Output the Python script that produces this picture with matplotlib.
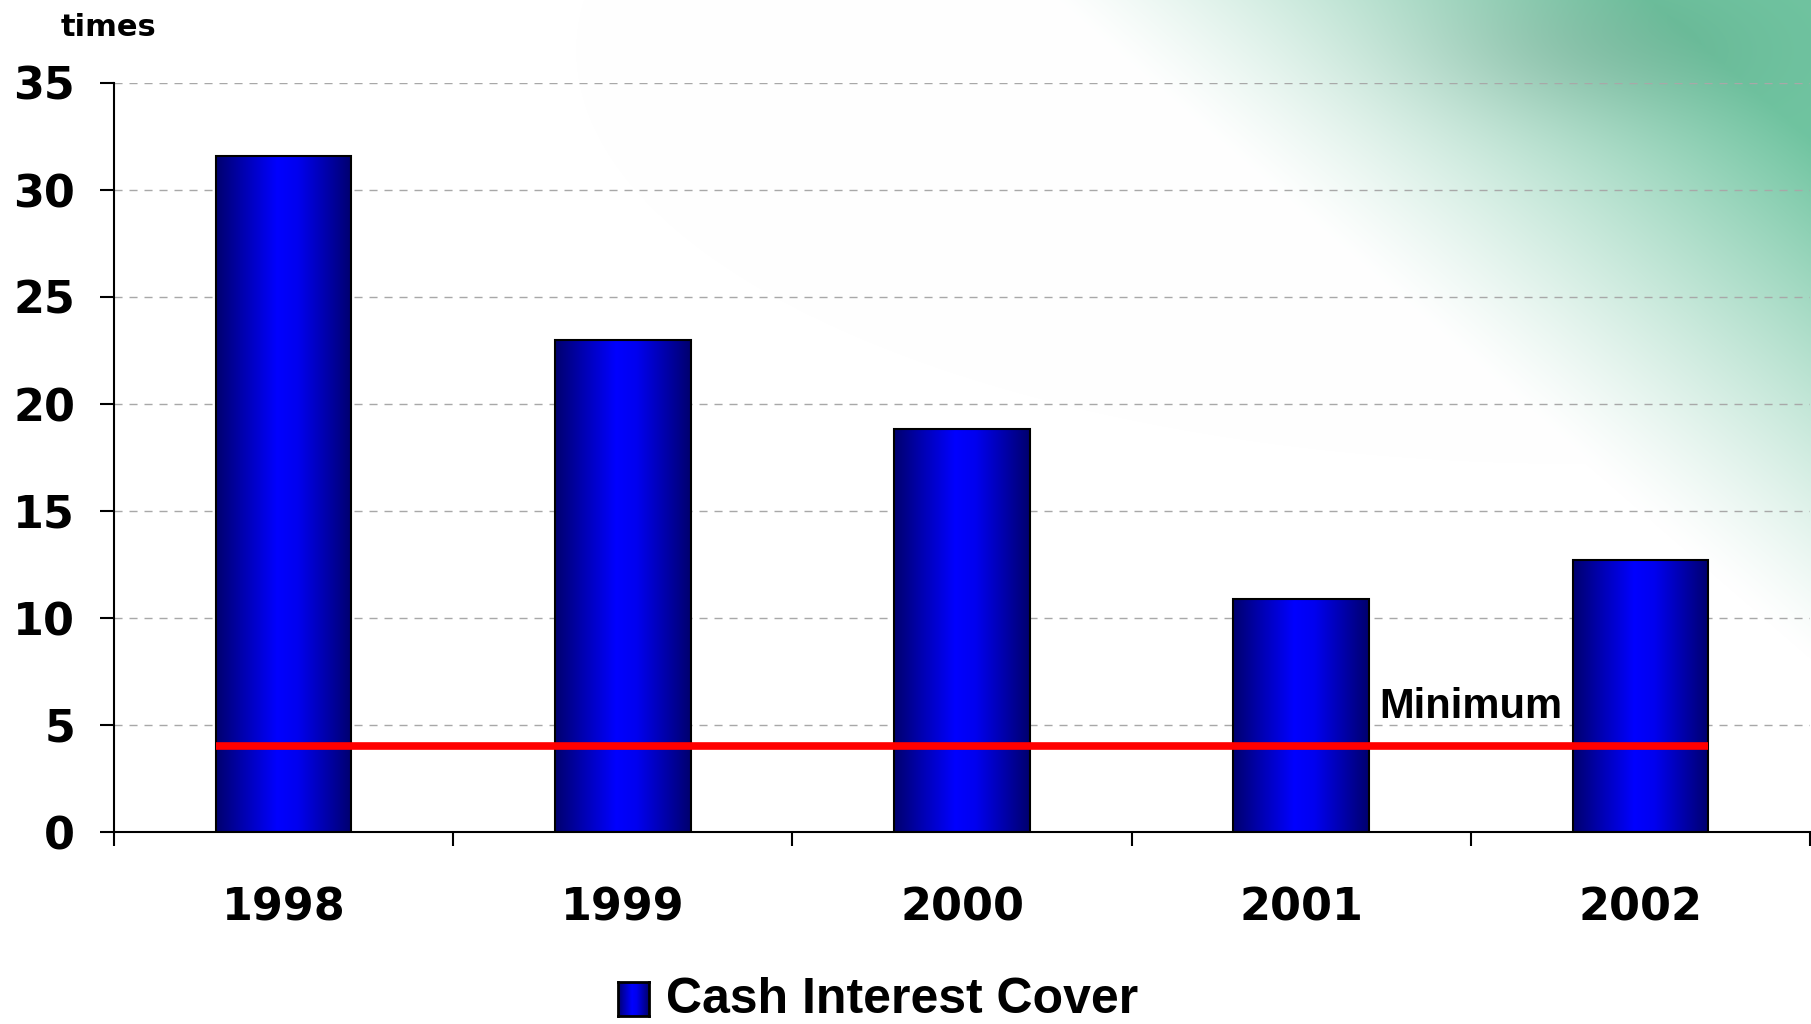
import numpy as np
import matplotlib
matplotlib.use("Agg")
import matplotlib.pyplot as plt
from matplotlib.colors import LinearSegmentedColormap
from matplotlib import font_manager as fm

years = ["1998", "1999", "2000", "2001", "2002"]
cover = [31.6, 23.0, 18.85, 10.9, 12.7]
minimum = 4.0
yticks = [0, 5, 10, 15, 20, 25, 30, 35]
series_name = "Cash Interest Cover"

W, H = 1811, 1024

font_names = {f.name for f in fm.fontManager.ttflist}
if "Liberation Sans Narrow" in font_names:
    legend_font, legend_size = "Liberation Sans Narrow", 43
else:
    legend_font, legend_size = "Liberation Sans", 36

fig = plt.figure(figsize=(W / 100, H / 100), dpi=100)

# background: white fading to green in the upper right corner
bg = fig.add_axes([0, 0, 1, 1], zorder=-10)
yy, xx = np.mgrid[0:H, 0:W]
t = np.clip((xx - 1050) / 600 - yy / 520, 0, 1) ** 1.2
green = np.array([0.44, 0.77, 0.63])
img = 1 - t[..., None] * (1 - green)
blob = np.exp(-(((xx - 1580) / 170) ** 2 + ((yy - 50) / 70) ** 2))
img = img * (1 - 0.08 * blob[..., None])
bg.imshow(img, aspect="auto", interpolation="bilinear")
bg.axis("off")

ax = fig.add_axes([114 / W, 192 / H, 1696 / W, 749 / H])
ax.patch.set_alpha(0)

x = np.arange(len(years))
bars = ax.bar(x, cover, width=0.4, color="none", edgecolor="black",
              linewidth=1.5, zorder=3)

cmap = LinearSegmentedColormap.from_list(
    "barblue",
    [(0, "#00006e"), (0.2, "#0000b0"), (0.45, "#0000ff"),
     (0.6, "#0000f0"), (1, "#00006e")])
grad = np.linspace(0, 1, 256)[None, :]
for b in bars:
    x0, w, h = b.get_x(), b.get_width(), b.get_height()
    ax.imshow(grad, cmap=cmap, aspect="auto", extent=[x0, x0 + w, 0, h],
              zorder=2, interpolation="bilinear")

ax.plot([x[0] - 0.2, x[-1] + 0.2], [minimum, minimum], color="#ff0000",
        lw=5.5, zorder=4, solid_capstyle="butt")
ax.text(3.23, 5.84, "Minimum", fontfamily="Liberation Sans",
        fontweight="bold", fontsize=30, ha="left", va="center", zorder=5)

ax.set_xlim(-0.5, len(years) - 0.5)
ax.set_ylim(0, 35)

ax.set_yticks(yticks)
ax.set_yticklabels([str(v) for v in yticks], fontfamily="DejaVu Sans",
                   fontweight="bold", fontsize=32)
ax.tick_params(axis="y", length=10, width=1.5, pad=18)

ax.set_xticks(np.arange(-0.5, len(years), 1))
ax.set_xticklabels([])
ax.tick_params(axis="x", which="major", length=10, width=1.5)
ax.set_xticks(x, minor=True)
ax.set_xticklabels(years, minor=True, fontfamily="DejaVu Sans",
                   fontweight="bold", fontsize=32)
ax.tick_params(axis="x", which="minor", length=0, pad=39)

ax.yaxis.grid(True, linestyle=(0, (5.8, 5.0)), color="#a8a8a8", lw=1.0)
ax.set_axisbelow(True)

for s in ["top", "right"]:
    ax.spines[s].set_visible(False)
for s in ["left", "bottom"]:
    ax.spines[s].set_linewidth(1.5)

fig.text(61 / W, 1 - 36 / H, "times", fontfamily="DejaVu Sans",
         fontweight="bold", fontsize=22, ha="left", va="baseline")

# legend
lax = fig.add_axes([618 / W, 1 - 1016 / H, 31 / W, 34 / H])
lax.imshow(grad, cmap=cmap, aspect="auto", interpolation="bilinear")
lax.set_xticks([])
lax.set_yticks([])
for s in lax.spines.values():
    s.set_linewidth(2)
fig.text(666 / W, 11 / H, series_name, fontfamily=legend_font,
         fontweight="bold", fontsize=legend_size, ha="left", va="baseline")

fig.savefig("out.png", dpi=100)
